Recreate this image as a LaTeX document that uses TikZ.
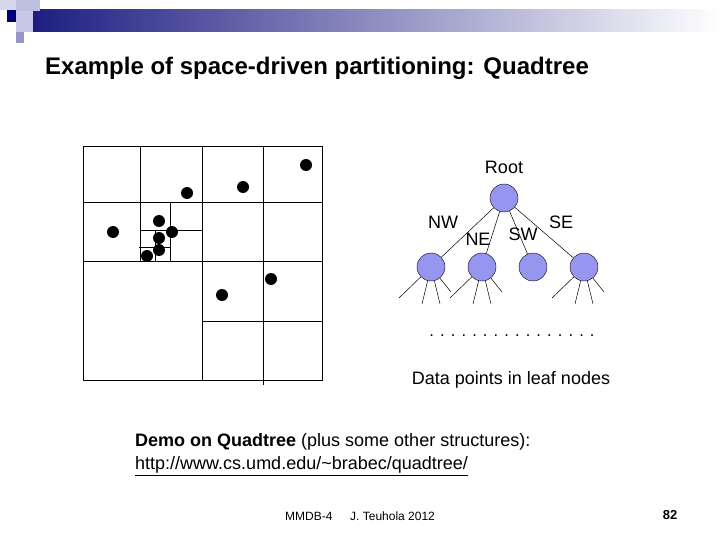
\documentclass[tikz,border=0pt]{standalone}
\usepackage{fontspec}
\setmainfont{Liberation Sans}
\definecolor{navy}{RGB}{30,30,130}
\definecolor{sqa}{RGB}{190,190,225}
\definecolor{sqb}{RGB}{215,215,235}
\definecolor{sqc}{RGB}{0,0,120}
\definecolor{sqd}{RGB}{200,200,230}
\definecolor{sqe}{RGB}{150,150,200}
\definecolor{nodefill}{RGB}{150,150,240}
\begin{document}
\begin{tikzpicture}[x=1pt,y=-1pt,
  dot/.style={circle,fill=black,inner sep=0pt,minimum size=12pt},
  tn/.style={circle,draw=black,fill=nodefill,inner sep=0pt,minimum size=28pt},
  lbl/.style={font=\fontsize{18}{21}\selectfont,inner sep=0pt},
  grid/.style={line width=0.8pt}]
\useasboundingbox (0,0) rectangle (720,540);
% header
\shade[left color=navy,right color=white] (33,10) rectangle (720,32);
\fill[sqa] (16,0) rectangle (40,11);
\fill[sqb] (0,0) rectangle (16,10);
\fill[sqc] (7,10) rectangle (16,22);
\fill[sqd] (16,11) rectangle (33,32);
\fill[sqe] (16,32) rectangle (24,43);
\node[font=\bfseries\fontsize{24}{28}\selectfont,anchor=west,inner sep=0pt] (title) at (45,68) {Example of space-driven partitioning: Quadtree};
% quadtree grid
\draw[grid] (83,146) rectangle (322,380);
\draw[grid] (202,146) -- (202,380);
\draw[grid] (83,261) -- (322,261);
\draw[grid] (140,146) -- (140,261);
\draw[grid] (83,202) -- (202,202);
\draw[grid] (263,146) -- (263,261);
\draw[grid] (202,202) -- (322,202);
\draw[grid] (202,321) -- (322,321);
\draw[grid] (263,261) -- (263,385);
\draw[grid] (170,202) -- (170,261);
\draw[grid] (140,230) -- (202,230);
\draw[grid] (155,230) -- (155,261);
\draw[grid] (139,247) -- (170,247);
\foreach \p/\q [count=\i] in {306/165,243/187,187/193,113/232,159/221,172/232,159/238,159/250,147/256,222/295,271/279}
  \node[dot] (d\i) at (\p,\q) {};
% tree
\node[lbl] (rootlbl) at (504,167) {Root};
\node[tn] (root) at (504,198) {};
\node[tn] (nw) at (431,267) {};
\node[tn] (ne) at (482,267) {};
\node[tn] (sw) at (533,267) {};
\node[tn] (se) at (584,267) {};
\foreach \c in {nw,ne,sw,se} \draw[line width=0.5pt] (root) -- (\c);
\node[lbl] at (443,222) {NW};
\node[lbl] at (478,239) {NE};
\node[lbl] at (523,234) {SW};
\node[lbl] at (561,222) {SE};
\foreach \c/\x in {nw/431,ne/482,se/584}{
  \coordinate (\c a) at (\x-32,298);
  \coordinate (\c b) at (\x-9,304);
  \coordinate (\c c) at (\x+9,304);
  \coordinate (\c d) at (\x+20,292);
  \foreach \k in {a,b,c,d} \draw[line width=0.5pt] (\c) -- (\c\k);
}
\node[font=\fontsize{16.5}{20}\selectfont] (dots) at (512,336) {. . . . . . . . . . . . . . . .};
\node[lbl] (data) at (511,380) {Data points in leaf nodes};
\node[lbl,anchor=west] (demo) at (135,442) {\textbf{Demo on Quadtree} (plus some other structures):};
\node[lbl,anchor=west] (url) at (135,466) {\underline{http://www.cs.umd.edu/\string~brabec/quadtree/}};
\node[font=\fontsize{12}{14}\selectfont,anchor=west,inner sep=0pt] (f1) at (285,516) {MMDB-4};
\node[font=\fontsize{12}{14}\selectfont,anchor=west,inner sep=0pt] (f2) at (350,516) {J. Teuhola 2012};
\node[font=\bfseries\fontsize{13}{15}\selectfont,inner sep=0pt] (pg) at (670,515) {82};
\end{tikzpicture}
\end{document}
